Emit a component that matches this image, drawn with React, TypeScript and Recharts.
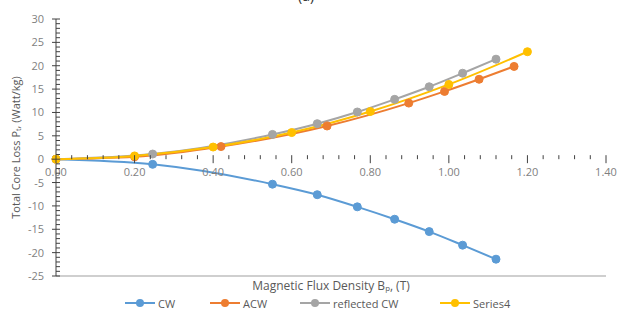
import { LineChart, Line, XAxis, YAxis, Legend } from "recharts"

// series values
const cwX = [0, 0.246, 0.551, 0.665, 0.767, 0.862, 0.95, 1.035, 1.12]
const cwY = [0, -1.1, -5.35, -7.6, -10.2, -12.85, -15.5, -18.4, -21.4]
const reflectedY = [0, 1.1, 5.3, 7.6, 10.1, 12.8, 15.5, 18.4, 21.4]
const acwX = [0, 0.2, 0.42, 0.69, 0.898, 0.989, 1.077, 1.166]
const acwY = [0, 0.5, 2.7, 7.1, 12.0, 14.5, 17.1, 19.85]
const s4X = [0, 0.2, 0.4, 0.6, 0.8, 1.0, 1.2]
const s4Y = [0, 0.7, 2.6, 5.7, 10.2, 16.0, 23.0]

const xTicks = Array.from({ length: 36 }, (_, i) => +(i * 0.04).toFixed(2))
const yTicks = Array.from({ length: 56 }, (_, i) => i - 25)

const cw = cwX.map((x, i) => ({ x, y: cwY[i] }))
const reflected = cwX.map((x, i) => ({ x, y: reflectedY[i] }))
const acw = acwX.map((x, i) => ({ x, y: acwY[i] }))
const series4 = s4X.map((x, i) => ({ x, y: s4Y[i] }))

const series = [
  { name: "CW", data: cw, color: "#5B9BD5", left: 125 },
  { name: "ACW", data: acw, color: "#ED7D31", left: 210 },
  { name: "reflected CW", data: reflected, color: "#A5A5A5", left: 300 },
  { name: "Series4", data: series4, color: "#FFC000", left: 440 },
]

const W = 625
const H = 312
const TOP = 19
const BOTTOM = 276
const LEFT = 56
const Y_MIN = -25
const Y_MAX = 30
const zeroY = TOP + ((BOTTOM - TOP) * Y_MAX) / (Y_MAX - Y_MIN)
const font = "'Open Sans', 'Noto Sans', sans-serif"

const XTick = (props: any) => {
  const { x, payload } = props
  const v = payload.value
  const major = Math.abs(Math.round(v / 0.2) * 0.2 - v) < 1e-6
  return (
    <g>
      <line x1={x} x2={x} y1={zeroY - 4} y2={major ? zeroY + 4 : zeroY} stroke="#404040" strokeWidth={1} />
      {major && (
        <text x={x} y={zeroY + 17} textAnchor="middle" fontSize={11} fill="#7f7f7f" fontFamily={font}>
          {v.toFixed(2)}
        </text>
      )}
    </g>
  )
}

const YTick = (props: any) => {
  const { y, payload } = props
  const v = payload.value
  const major = v % 5 === 0
  return (
    <g>
      <line x1={major ? LEFT - 4 : LEFT} x2={LEFT + 4} y1={y} y2={y} stroke="#404040" strokeWidth={1} />
      {major && (
        <text x={LEFT - 12} y={y + 4} textAnchor="end" fontSize={11} fill="#7f7f7f" fontFamily={font}>
          {v}
        </text>
      )}
    </g>
  )
}

const LegendContent = () => (
  <div style={{ position: "relative", height: 18, width: W, fontFamily: font, fontSize: 11, color: "#595959" }}>
    {series.map((s) => (
      <div key={s.name} style={{ position: "absolute", left: s.left, top: 0, height: 18, display: "flex", alignItems: "center", gap: 3, whiteSpace: "nowrap" }}>
        <svg width={30} height={10}>
          <line x1={0} x2={30} y1={5} y2={5} stroke={s.color} strokeWidth={2} />
          <circle cx={15} cy={5} r={4} fill={s.color} />
        </svg>
        <span>{s.name}</span>
      </div>
    ))}
  </div>
)

export default function App() {
  return (
    <div style={{ position: "absolute", left: 0, top: 0, width: W, height: H, background: "#fff", overflow: "hidden" }}>
      <div style={{ position: "absolute", top: -14, left: 298, fontSize: 14, fontFamily: font, color: "#333" }}>(a)</div>
      <LineChart width={W} height={H} margin={{ top: TOP, right: W - 606, bottom: 0, left: 0 }}>
        <XAxis
          dataKey="x"
          type="number"
          domain={[0, 1.4]}
          ticks={xTicks}
          interval={0}
          allowDuplicatedCategory={false}
          height={18}
          axisLine={{ stroke: "#bfbfbf", strokeWidth: 1.5 }}
          tickLine={false}
          tick={<XTick />}
          label={{
            value: "Magnetic Flux Density Bₚ, (T)",
            position: "insideBottom",
            offset: 4,
            fontSize: 12,
            fill: "#595959",
            fontFamily: font,
          }}
        />
        <XAxis xAxisId="top" orientation="top" type="number" domain={[0, 1.4]} height={0} tick={false} tickLine={false} axisLine={{ stroke: "#bfbfbf", strokeWidth: 1.5 }} />
        <YAxis
          type="number"
          domain={[Y_MIN, Y_MAX]}
          ticks={yTicks}
          interval={0}
          width={LEFT}
          axisLine={{ stroke: "#404040" }}
          tickLine={false}
          tick={<YTick />}
          label={{
            value: "Total Core Loss Pₜ, (Watt/kg)",
            angle: -90,
            position: "insideLeft",
            offset: 16,
            style: { textAnchor: "middle" },
            fontSize: 11,
            fill: "#595959",
            fontFamily: font,
          }}
        />
        <YAxis yAxisId="right" orientation="right" type="number" domain={[Y_MIN, Y_MAX]} width={0} tick={false} tickLine={false} axisLine={{ stroke: "#222" }} />
        <Line dataKey="y" xAxisId="top" yAxisId="right" data={[]} isAnimationActive={false} legendType="none" />
        {series.map((s) => (
          <Line
            key={s.name}
            data={s.data}
            dataKey="y"
            name={s.name}
            type="monotone"
            stroke={s.color}
            strokeWidth={2}
            dot={{ r: 4, fill: s.color, stroke: s.color, strokeWidth: 1 }}
            isAnimationActive={false}
          />
        ))}
        <Legend verticalAlign="bottom" height={18} content={<LegendContent />} wrapperStyle={{ left: 0, width: W }} />
      </LineChart>
    </div>
  )
}
